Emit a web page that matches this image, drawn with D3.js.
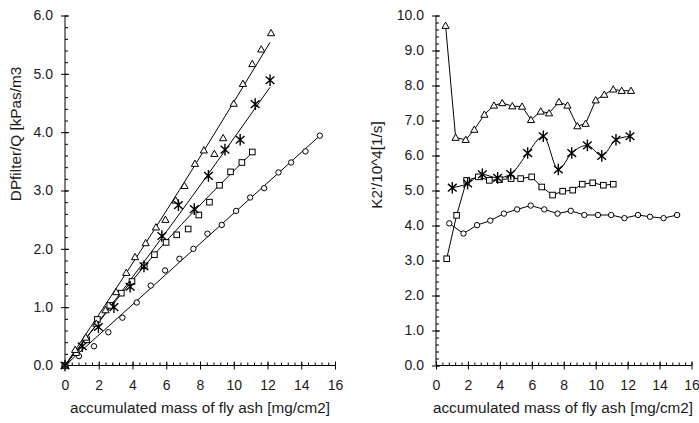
<!DOCTYPE html>
<html>
<head>
<meta charset="utf-8">
<script src="https://cdn.jsdelivr.net/npm/d3@7"></script>
<style>
  body { margin: 0; background: #fff; }
  text { font-family: "Liberation Sans", Arial, sans-serif; fill: #1a1a1a; }
</style>
</head>
<body>
<svg id="chart" width="699" height="423"></svg>
<script>
// Accumulated mass of fly ash [mg/cm2] per run (leading 0 = start of filtration)
const circleMass = [0, 0.83, 1.72, 2.57, 3.40, 4.25, 5.08, 5.93, 6.78, 7.61, 8.44, 9.29, 10.14, 10.97, 11.80, 12.65, 13.40, 14.25, 15.10];
const squareMass = [0, 0.67, 1.29, 1.92, 2.65, 3.34, 3.97, 4.70, 5.30, 5.99, 6.62, 7.30, 7.93, 8.56, 9.16, 9.81, 10.48, 11.10];
const starMass = [0, 1.02, 1.98, 2.90, 3.86, 4.68, 5.74, 6.72, 7.66, 8.50, 9.48, 10.38, 11.27, 12.15];
const triMass = [0, 0.60, 1.23, 1.86, 2.40, 3.03, 3.63, 4.15, 4.78, 5.39, 5.95, 6.56, 7.08, 7.70, 8.23, 8.85, 9.37, 10.00, 10.54, 11.10, 11.63, 12.21];

// DPfilter/Q [kPas/m3]
const circleDp = [0, 0.16, 0.33, 0.57, 0.82, 1.08, 1.37, 1.63, 1.83, 2.00, 2.26, 2.41, 2.65, 2.88, 3.04, 3.31, 3.48, 3.67, 3.94];
const squareDp = [0, 0.22, 0.44, 0.79, 1.03, 1.24, 1.44, 1.71, 1.90, 2.11, 2.24, 2.34, 2.58, 2.80, 3.09, 3.32, 3.48, 3.66];
const starDp = [0, 0.33, 0.66, 1.00, 1.35, 1.70, 2.22, 2.75, 2.68, 3.25, 3.70, 3.87, 4.48, 4.89];
const triDp = [0, 0.27, 0.48, 0.72, 0.95, 1.26, 1.59, 1.86, 2.10, 2.37, 2.50, 2.83, 3.08, 3.46, 3.69, 3.63, 3.90, 4.49, 4.83, 5.17, 5.42, 5.70];

// K2'/10^4 [1/s] (no value at the start point)
const circleK2 = [null, 4.06, 3.77, 4.01, 4.14, 4.34, 4.46, 4.57, 4.46, 4.34, 4.42, 4.30, 4.30, 4.30, 4.21, 4.30, 4.25, 4.21, 4.30];
const squareK2 = [null, 3.05, 4.29, 5.29, 5.39, 5.29, 5.31, 5.34, 5.34, 5.39, 5.10, 4.87, 4.98, 5.01, 5.18, 5.22, 5.15, 5.18];
const starK2 = [null, 5.08, 5.20, 5.46, 5.36, 5.47, 6.07, 6.55, 5.60, 6.07, 6.29, 5.99, 6.45, 6.55];
const triK2 = [null, 9.71, 6.51, 6.45, 6.74, 7.17, 7.43, 7.50, 7.41, 7.40, 7.02, 7.26, 7.21, 7.53, 7.43, 6.84, 6.91, 7.58, 7.74, 7.89, 7.85, 7.85];

// Fitted pressure-drop curves (support points)
const circleFitMass = [0, 7.55, 15.10], circleFitDp = [0, 1.97, 3.94];
const squareFitMass = [0, 5.5, 11.2], squareFitDp = [0, 1.97, 3.68];
const starFitMass = [0, 6.0, 12.15], starFitDp = [0, 2.29, 4.77];
const triFitMass = [0, 6.0, 12.15], triFitDp = [0, 2.65, 5.54];

// Axis ticks
const massTicks = [0, 2, 4, 6, 8, 10, 12, 14, 16];
const dpTicks = [0, 1, 2, 3, 4, 5, 6];
const k2Ticks = [0, 1, 2, 3, 4, 5, 6, 7, 8, 9, 10];

const svg = d3.select("#chart");
const zip = (xs, ys) => xs.map((x, i) => [x, ys[i]]).filter(d => d[1] !== null);

const series = [
  { name: "circle", mass: circleMass, dp: circleDp, k2: circleK2, fitM: circleFitMass, fitD: circleFitDp, curve: d3.curveLinear },
  { name: "square", mass: squareMass, dp: squareDp, k2: squareK2, fitM: squareFitMass, fitD: squareFitDp, curve: d3.curveLinear },
  { name: "triangle", mass: triMass, dp: triDp, k2: triK2, fitM: triFitMass, fitD: triFitDp, curve: d3.curveLinear },
  { name: "star", mass: starMass, dp: starDp, k2: starK2, fitM: starFitMass, fitD: starFitDp, curve: d3.curveMonotoneX }
];

function drawMarker(g, type, px, py) {
  if (type === "circle") {
    g.append("circle").attr("cx", px).attr("cy", py).attr("r", 2.7)
      .attr("fill", "#fff").attr("stroke", "#000").attr("stroke-width", 1);
  } else if (type === "square") {
    g.append("rect").attr("x", px - 2.8).attr("y", py - 2.8).attr("width", 5.6).attr("height", 5.6)
      .attr("fill", "#fff").attr("stroke", "#000").attr("stroke-width", 1);
  } else if (type === "triangle") {
    const s = 3.6;
    g.append("path")
      .attr("d", `M${px},${py - s}L${px + s},${py + s * 0.75}L${px - s},${py + s * 0.75}Z`)
      .attr("fill", "#fff").attr("stroke", "#000").attr("stroke-width", 1);
  } else {
    const r = 5.8, a = 0.72;
    const dx = r * Math.cos(a), dy = r * Math.sin(a);
    g.append("path")
      .attr("d", `M${px},${py - r}L${px},${py + r}M${px - dx},${py - dy}L${px + dx},${py + dy}M${px - dx},${py + dy}L${px + dx},${py - dy}`)
      .attr("fill", "none").attr("stroke", "#000").attr("stroke-width", 1.4);
  }
}

function drawAxes(g, x, y, yTicks, yMax) {
  const minorX = d3.range(0, 16.001, 0.4);
  const minorY = d3.range(0, yMax + 0.001, 0.2);
  const y0 = y(0), x0 = x(0);

  // x axis: outward major ticks with labels
  const ax = g.append("g").attr("transform", `translate(0,${y0})`)
    .call(d3.axisBottom(x).tickValues(massTicks).tickSize(4).tickPadding(11).tickFormat(d3.format("d")));
  // x axis: inward minor and major ticks
  g.append("g").attr("transform", `translate(0,${y0})`)
    .call(d3.axisBottom(x).tickValues(minorX).tickSize(-3).tickFormat(""));
  g.append("g").attr("transform", `translate(0,${y0})`)
    .call(d3.axisBottom(x).tickValues(massTicks).tickSize(-4).tickFormat(""));

  // y axis
  const ay = g.append("g").attr("transform", `translate(${x0},0)`)
    .call(d3.axisLeft(y).tickValues(yTicks).tickSize(4).tickPadding(8).tickFormat(d3.format(".1f")));
  g.append("g").attr("transform", `translate(${x0},0)`)
    .call(d3.axisLeft(y).tickValues(minorY).tickSize(-3).tickFormat(""));
  g.append("g").attr("transform", `translate(${x0},0)`)
    .call(d3.axisLeft(y).tickValues(yTicks).tickSize(-4).tickFormat(""));

  [ax, ay].forEach(a => {
    a.selectAll("text").style("font-size", "14px").attr("fill", "#1a1a1a");
  });
  g.selectAll(".tick line").attr("stroke", "#000");
  g.selectAll(".domain").remove();
  // plain axis lines
  g.append("line").attr("x1", x0).attr("x2", x(16)).attr("y1", y0).attr("y2", y0).attr("stroke", "#000");
  g.append("line").attr("x1", x0).attr("x2", x0).attr("y1", y0).attr("y2", y(yMax)).attr("stroke", "#000");
}

// ---------- Left panel: pressure drop ----------
const xL = d3.scaleLinear().domain([0, 16]).range([65, 335]);
const yL = d3.scaleLinear().domain([0, 6]).range([365.5, 15.5]);
const gL = svg.append("g");
drawAxes(gL, xL, yL, dpTicks, 6);

const fitLine = d3.line().x(d => xL(d[0])).y(d => yL(d[1])).curve(d3.curveNatural);
series.forEach(s => {
  gL.append("path").attr("d", fitLine(zip(s.fitM, s.fitD)))
    .attr("fill", "none").attr("stroke", "#000").attr("stroke-width", 1);
});
series.forEach(s => {
  const mk = gL.append("g");
  zip(s.mass, s.dp).forEach(d => drawMarker(mk, s.name, xL(d[0]), yL(d[1])));
});

gL.append("text").attr("x", 200).attr("y", 413).attr("text-anchor", "middle")
  .style("font-size", "15.3px").text("accumulated mass of fly ash [mg/cm2]");
gL.append("text").attr("transform", "translate(21,134) rotate(-90)").attr("text-anchor", "middle")
  .style("font-size", "15.3px").text("DPfilter/Q [kPas/m3");

// ---------- Right panel: K2' ----------
const xR = d3.scaleLinear().domain([0, 16]).range([436, 691.5]);
const yR = d3.scaleLinear().domain([0, 10]).range([365.5, 15.5]);
const gR = svg.append("g");
drawAxes(gR, xR, yR, k2Ticks, 10);

series.forEach(s => {
  const k2Line = d3.line().x(d => xR(d[0])).y(d => yR(d[1])).curve(s.curve);
  gR.append("path").attr("d", k2Line(zip(s.mass, s.k2)))
    .attr("fill", "none").attr("stroke", "#000").attr("stroke-width", 1);
});
series.forEach(s => {
  const mk = gR.append("g");
  zip(s.mass, s.k2).forEach(d => drawMarker(mk, s.name, xR(d[0]), yR(d[1])));
});

gR.append("text").attr("x", 563).attr("y", 413).attr("text-anchor", "middle")
  .style("font-size", "15.3px").text("accumulated mass of fly ash [mg/cm2]");
gR.append("text").attr("transform", "translate(382,165) rotate(-90)").attr("text-anchor", "middle")
  .style("font-size", "15.3px").text("K2'/10^4[1/s]");
</script>
</body>
</html>
